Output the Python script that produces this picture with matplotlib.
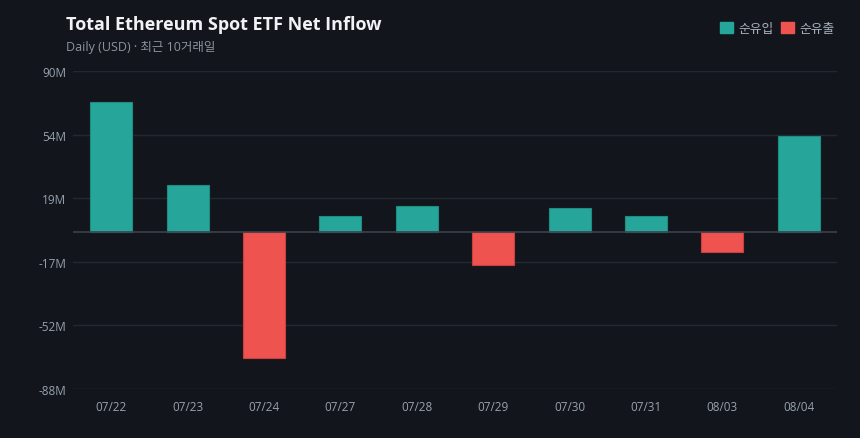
import matplotlib
matplotlib.use("Agg")
import matplotlib.pyplot as plt
from matplotlib.patches import Patch
import numpy as np

plt.rcParams['font.family'] = ['Open Sans', 'Noto Sans CJK KR', 'DejaVu Sans']

dates = ["07/22", "07/23", "07/24", "07/27", "07/28", "07/29", "07/30", "07/31", "08/03", "08/04"]
flows_m = [72.5, 26.1, -70.6, 9.1, 14.5, -18.6, 13.2, 8.8, -11.3, 53.5]
y_ticks = [-88, -52.4, -16.8, 18.8, 54.4, 90]
y_tick_labels = ["-88M", "-52M", "-17M", "19M", "54M", "90M"]

BG = "#12161c"
GRID = "#222831"
ZERO = "#3b424c"
TEAL = "#26a69a"
RED = "#ef5350"
TICK = "#97a1ad"

fig = plt.figure(figsize=(8.6, 4.39), dpi=100, facecolor=BG)
ax = fig.add_axes([73/860, 1-390/439, (837-73)/860, (390-72)/439])
ax.set_facecolor(BG)

x = np.arange(len(dates))
colors = [TEAL if v >= 0 else RED for v in flows_m]
edges = ["#1f8c81" if v >= 0 else "#c9403e" for v in flows_m]
ax.bar(x, flows_m, width=0.55, color=colors, edgecolor=edges, linewidth=0.8, zorder=3)

ax.set_xlim(-0.5, len(dates) - 0.5)
ax.set_ylim(-88, 90)
ax.set_yticks(y_ticks)
ax.set_yticklabels(y_tick_labels)
ax.set_xticks(x)
ax.set_xticklabels(dates)
ax.tick_params(axis='both', length=0, colors=TICK, labelsize=8.5)
ax.tick_params(axis='x', pad=8)
ax.tick_params(axis='y', pad=5)
for s in ax.spines.values():
    s.set_visible(False)
ax.grid(axis='y', color=GRID, linewidth=1, zorder=0)
ax.axhline(0, color=ZERO, linewidth=1.2, zorder=4)

fig.text(66/860, 1-25/439, "Total Ethereum Spot ETF Net Inflow", color="#f0f2f5",
         fontsize=13, fontweight='bold', va='center', ha='left')
fig.text(66/860, 1-47/439, "Daily (USD) · 최근 10거래일", color="#8b949e",
         fontsize=9, va='center', ha='left')

handles = [Patch(facecolor=TEAL, edgecolor=TEAL, label="순유입"),
           Patch(facecolor=RED, edgecolor=RED, label="순유출")]
leg = fig.legend(handles=handles, loc='upper right', bbox_to_anchor=(846/860, 1-11/439),
                 ncol=2, frameon=False, fontsize=9.2, handlelength=1.0, handleheight=1.0,
                 handletextpad=0.45, columnspacing=0.55, labelcolor="#aab2bd")

fig.savefig("out.png", dpi=100, facecolor=BG)
